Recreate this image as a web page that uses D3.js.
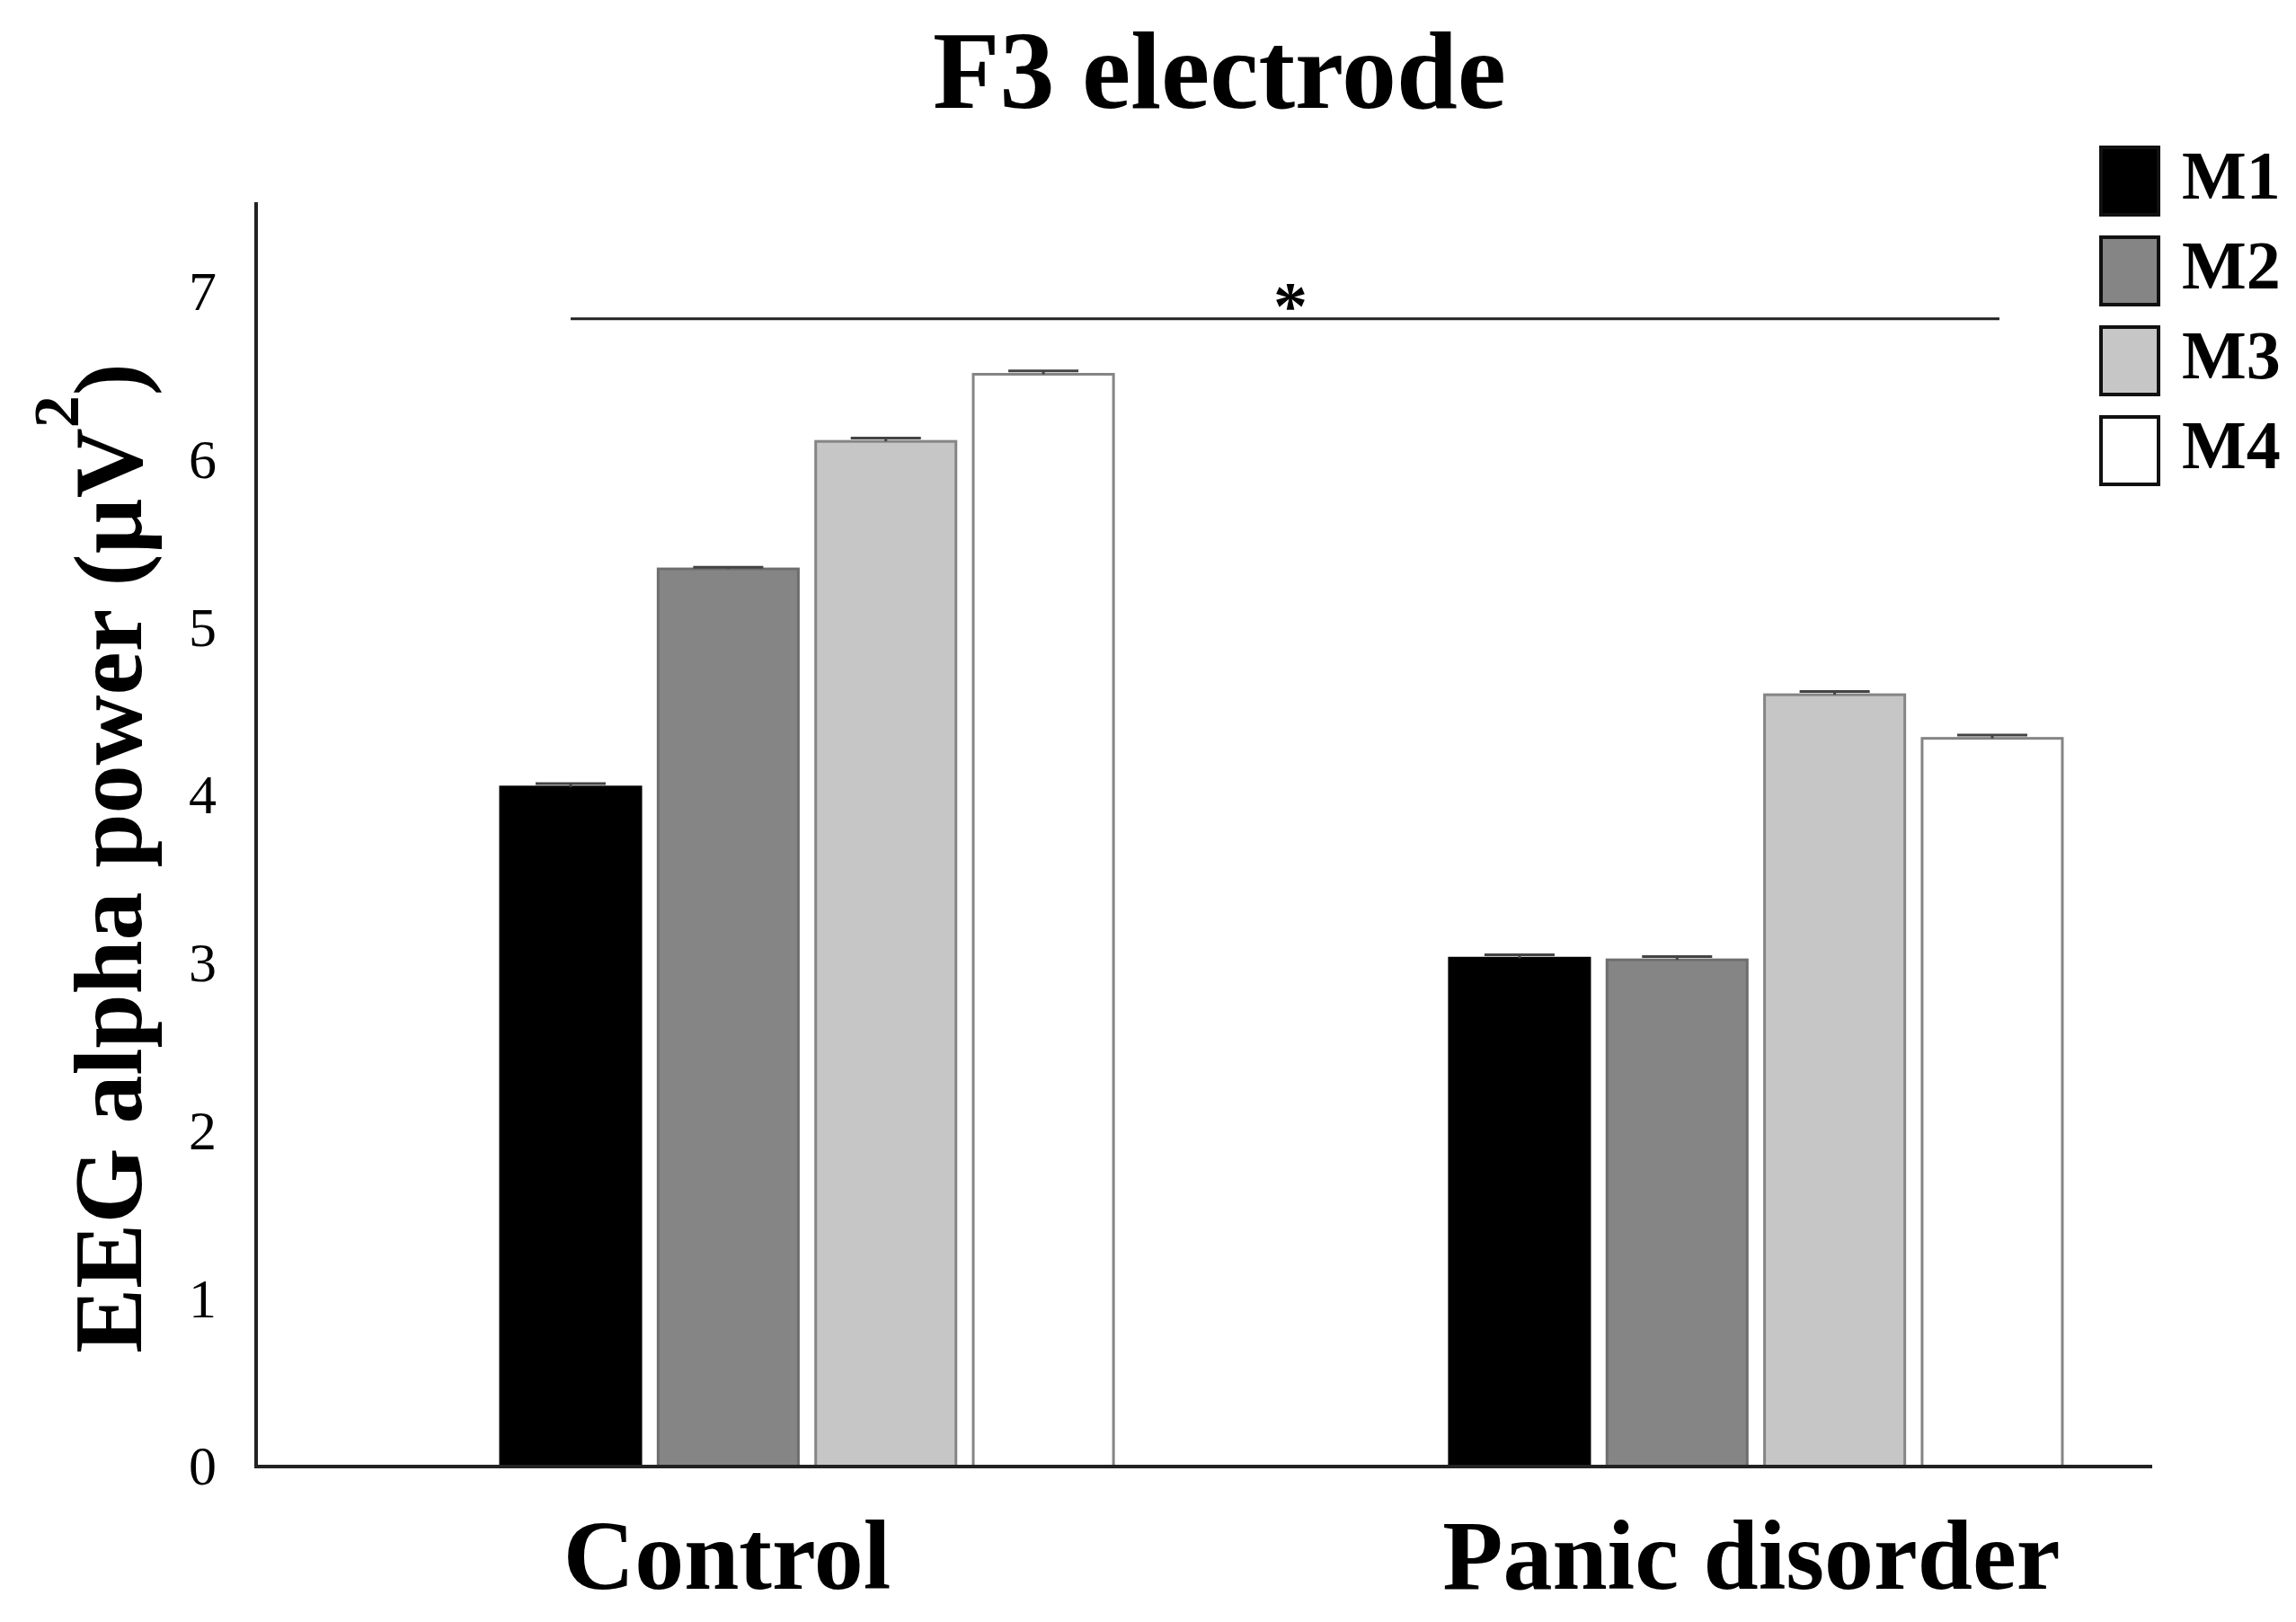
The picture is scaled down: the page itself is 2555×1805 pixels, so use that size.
<!DOCTYPE html>
<html>
<head>
<meta charset="utf-8">
<script src="https://cdn.jsdelivr.net/npm/d3@7"></script>
<style>
  html, body { margin: 0; padding: 0; background: #fff; }
  svg text { font-family: "Liberation Serif", "Times New Roman", serif; fill: #000; }
</style>
</head>
<body>
<div id="chart"></div>
<script>
// data
const groups = ["Control", "Panic disorder"];
const series = ["M1", "M2", "M3", "M4"];
const control = [4.05, 5.35, 6.11, 6.51];
const panic = [3.03, 3.02, 4.60, 4.34];
const errors = [[0.02, 0.01, 0.02, 0.02], [0.02, 0.02, 0.02, 0.02]];
const yTicks = [0, 1, 2, 3, 4, 5, 6, 7];
const fills = ["#000000", "#858585", "#c6c6c6", "#ffffff"];
const strokes = ["#000000", "#6e6e6e", "#858585", "#858585"];

const values = [control, panic];

let W = 2555, H = 1805;

let svg = d3.select("#chart")
    .append("svg")
    .attr("width", W)
    .attr("height", H);

let y = d3.scaleLinear().domain([0, 7]).range([1632, 325]);

let x0 = d3.scaleBand().domain(groups).range([557, 2295]).paddingInner(0.354).paddingOuter(0);
let x1 = d3.scaleBand().domain(series).range([0, x0.bandwidth()]).paddingInner(0.11);

// title
svg.append("text")
    .attr("x", 1357)
    .attr("y", 120)
    .attr("text-anchor", "middle")
    .style("font-size", "122px")
    .style("font-weight", "bold")
    .text("F3 electrode");

// bars
let bars = [];
groups.forEach((g, gi) => {
    series.forEach((s, si) => {
        bars.push({ g: g, s: s, i: si, v: values[gi][si], e: errors[gi][si] });
    });
});

let barLayer = svg.append("g");

barLayer.selectAll("rect")
    .data(bars)
    .enter()
    .append("rect")
    .attr("x", d => x0(d.g) + x1(d.s))
    .attr("y", d => y(d.v))
    .attr("width", x1.bandwidth())
    .attr("height", d => y(0) - y(d.v))
    .style("fill", d => fills[d.i])
    .style("stroke", d => strokes[d.i])
    .style("stroke-width", 3);

// error bars (tiny)
let errLayer = svg.append("g")
    .style("stroke", "#444")
    .style("stroke-width", 3);

errLayer.selectAll("line.v")
    .data(bars)
    .enter()
    .append("line")
    .attr("x1", d => x0(d.g) + x1(d.s) + x1.bandwidth() / 2)
    .attr("x2", d => x0(d.g) + x1(d.s) + x1.bandwidth() / 2)
    .attr("y1", d => y(d.v))
    .attr("y2", d => y(d.v + d.e));

errLayer.selectAll("line.cap")
    .data(bars)
    .enter()
    .append("line")
    .attr("x1", d => x0(d.g) + x1(d.s) + x1.bandwidth() * 0.25)
    .attr("x2", d => x0(d.g) + x1(d.s) + x1.bandwidth() * 0.75)
    .attr("y1", d => y(d.v + d.e))
    .attr("y2", d => y(d.v + d.e));

// axes
let yAxis = svg.append("g")
    .attr("transform", "translate(285,0)")
    .call(d3.axisLeft(y).tickValues(yTicks).tickSize(0).tickPadding(44).tickFormat(d3.format("d")));
yAxis.select(".domain").remove();
yAxis.selectAll("text")
    .style("font-size", "62px")
    .style("font-family", "'Liberation Serif', serif");

svg.append("line")
    .attr("x1", 285).attr("x2", 285)
    .attr("y1", 225).attr("y2", y(0) + 2)
    .style("stroke", "#222").style("stroke-width", 4);

svg.append("line")
    .attr("x1", 283).attr("x2", 2395)
    .attr("y1", y(0)).attr("y2", y(0))
    .style("stroke", "#222").style("stroke-width", 4);

// group labels
let labelDx = { "Control": -89, "Panic disorder": -5 };
svg.selectAll("text.group")
    .data(groups)
    .enter()
    .append("text")
    .attr("class", "group")
    .attr("x", d => x0(d) + x0.bandwidth() / 2 + labelDx[d])
    .attr("y", 1768)
    .attr("text-anchor", "middle")
    .style("font-size", "110px")
    .style("font-weight", "bold")
    .text(d => d);

// y axis title
let yt = svg.append("text")
    .attr("transform", "translate(157,955) rotate(-90)")
    .attr("text-anchor", "middle")
    .style("font-size", "108px")
    .style("font-weight", "bold");
yt.append("tspan").text("EEG alpha power (\u00b5V");
yt.append("tspan").attr("dy", -70).style("font-size", "72px").text("2");
yt.append("tspan").attr("dy", 70).text(")");

// significance line
let xStart = x0("Control") + x1("M1") + x1.bandwidth() / 2;
let xEnd = x0("Panic disorder") + x1("M4") + x1.bandwidth() / 2 + 8;
svg.append("line")
    .attr("x1", xStart).attr("x2", xEnd)
    .attr("y1", y(6.84)).attr("y2", y(6.84))
    .style("stroke", "#222").style("stroke-width", 3);
svg.append("text")
    .attr("x", (xStart + xEnd) / 2 + 6)
    .attr("y", 366)
    .attr("text-anchor", "middle")
    .style("font-size", "76px")
    .style("font-weight", "bold")
    .text("*");

// legend
let legend = svg.append("g").attr("transform", "translate(2338,164)");
let leg = legend.selectAll("g")
    .data(series)
    .enter()
    .append("g")
    .attr("transform", (d, i) => "translate(0," + (i * 100) + ")");
leg.append("rect")
    .attr("width", 64)
    .attr("height", 75)
    .style("fill", (d, i) => fills[i])
    .style("stroke", "#111")
    .style("stroke-width", 4);
leg.append("text")
    .attr("x", 90)
    .attr("y", 57)
    .style("font-size", "76px")
    .style("font-weight", "bold")
    .text(d => d);
</script>
</body>
</html>
